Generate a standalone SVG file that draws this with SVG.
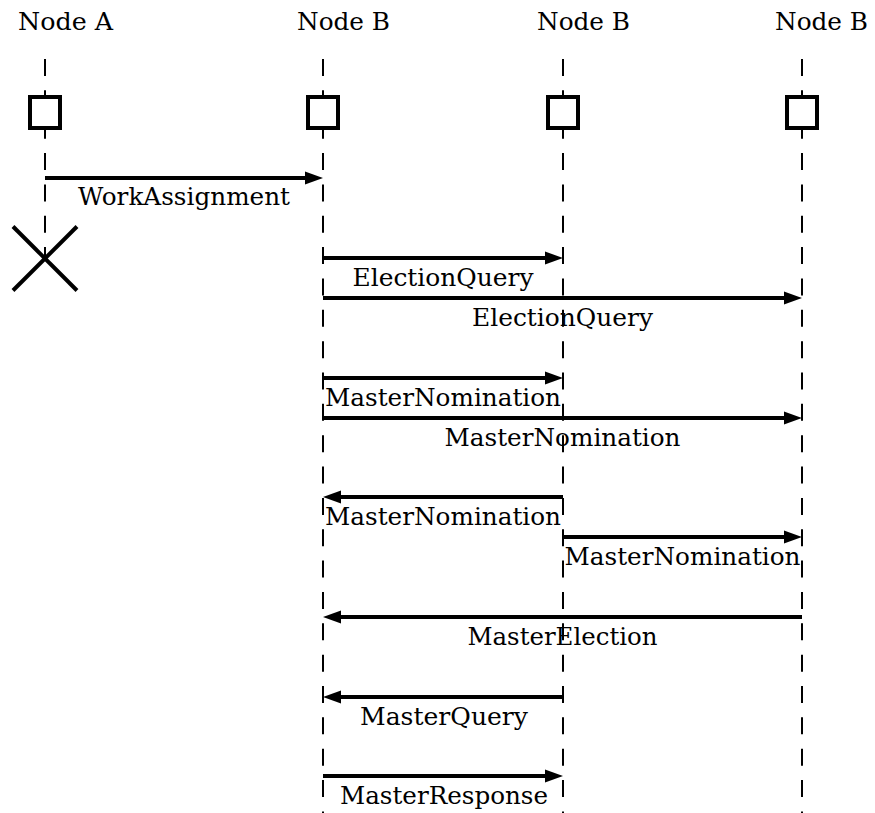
<svg xmlns="http://www.w3.org/2000/svg" width="875" height="813" viewBox="0 0 875 813">
<style>
.t{font-family:'DejaVu Serif','Liberation Serif',serif;font-size:25px;fill:#000}
.life{stroke:#000;stroke-width:2;stroke-dasharray:17 14.35;fill:none}
.box{fill:#fff;stroke:#000;stroke-width:4}
.msg{stroke:#000;stroke-width:3.8;fill:none;marker-end:url(#ah)}
.lbl{text-anchor:middle}
.x{stroke:#000;stroke-width:4}
</style>
<defs>
<marker id="ah" markerUnits="userSpaceOnUse" markerWidth="19" markerHeight="14" refX="6" refY="7" orient="auto" overflow="visible">
<path d="M0,0.5 L18,7 L0,13.5 Z" fill="#000"/>
</marker>
</defs>
<rect width="875" height="813" fill="#fff"/>
<g id="nodeA">
<text class="t" x="18" y="30" textLength="95" lengthAdjust="spacingAndGlyphs">Node A</text>
<line class="life" x1="45" y1="59" x2="45" y2="258"/>
<rect class="box" x="30" y="97" width="30" height="31"/>
<line class="x" x1="13" y1="226.5" x2="77" y2="290.5"/>
<line class="x" x1="77" y1="226.5" x2="13" y2="290.5"/>
</g>
<g id="nodeB1">
<text class="t" x="297" y="30" textLength="93" lengthAdjust="spacingAndGlyphs">Node B</text>
<line class="life" x1="323" y1="59" x2="323" y2="813"/>
<rect class="box" x="308" y="97" width="30" height="31"/>
</g>
<g id="nodeB2">
<text class="t" x="537" y="30" textLength="93" lengthAdjust="spacingAndGlyphs">Node B</text>
<line class="life" x1="563" y1="59" x2="563" y2="813"/>
<rect class="box" x="548" y="97" width="30" height="31"/>
</g>
<g id="nodeB3">
<text class="t" x="775" y="30" textLength="93" lengthAdjust="spacingAndGlyphs">Node B</text>
<line class="life" x1="802" y1="59" x2="802" y2="813"/>
<rect class="box" x="787" y="97" width="30" height="31"/>
</g>
<g id="connectors">
<line class="msg" x1="45" y1="178" x2="311" y2="178"/>
<text class="t lbl" x="184" y="205" textLength="212" lengthAdjust="spacingAndGlyphs">WorkAssignment</text>
<line class="msg" x1="323" y1="258" x2="551" y2="258"/>
<text class="t lbl" x="443" y="285.5" textLength="181" lengthAdjust="spacingAndGlyphs">ElectionQuery</text>
<line class="msg" x1="323" y1="298" x2="790" y2="298"/>
<text class="t lbl" x="562.5" y="325.5" textLength="181" lengthAdjust="spacingAndGlyphs">ElectionQuery</text>
<line class="msg" x1="323" y1="378" x2="551" y2="378"/>
<text class="t lbl" x="443" y="406" textLength="236" lengthAdjust="spacingAndGlyphs">MasterNomination</text>
<line class="msg" x1="323" y1="418" x2="790" y2="418"/>
<text class="t lbl" x="562.5" y="446" textLength="236" lengthAdjust="spacingAndGlyphs">MasterNomination</text>
<line class="msg" x1="563" y1="497" x2="335" y2="497"/>
<text class="t lbl" x="443" y="525" textLength="236" lengthAdjust="spacingAndGlyphs">MasterNomination</text>
<line class="msg" x1="563" y1="537" x2="790" y2="537"/>
<text class="t lbl" x="682.5" y="565" textLength="236" lengthAdjust="spacingAndGlyphs">MasterNomination</text>
<line class="msg" x1="802" y1="617" x2="335" y2="617"/>
<text class="t lbl" x="562.5" y="645" textLength="190" lengthAdjust="spacingAndGlyphs">MasterElection</text>
<line class="msg" x1="563" y1="697" x2="335" y2="697"/>
<text class="t lbl" x="444" y="725" textLength="168" lengthAdjust="spacingAndGlyphs">MasterQuery</text>
<line class="msg" x1="323" y1="776" x2="551" y2="776"/>
<text class="t lbl" x="444" y="804" textLength="208" lengthAdjust="spacingAndGlyphs">MasterResponse</text>
</g>
</svg>
